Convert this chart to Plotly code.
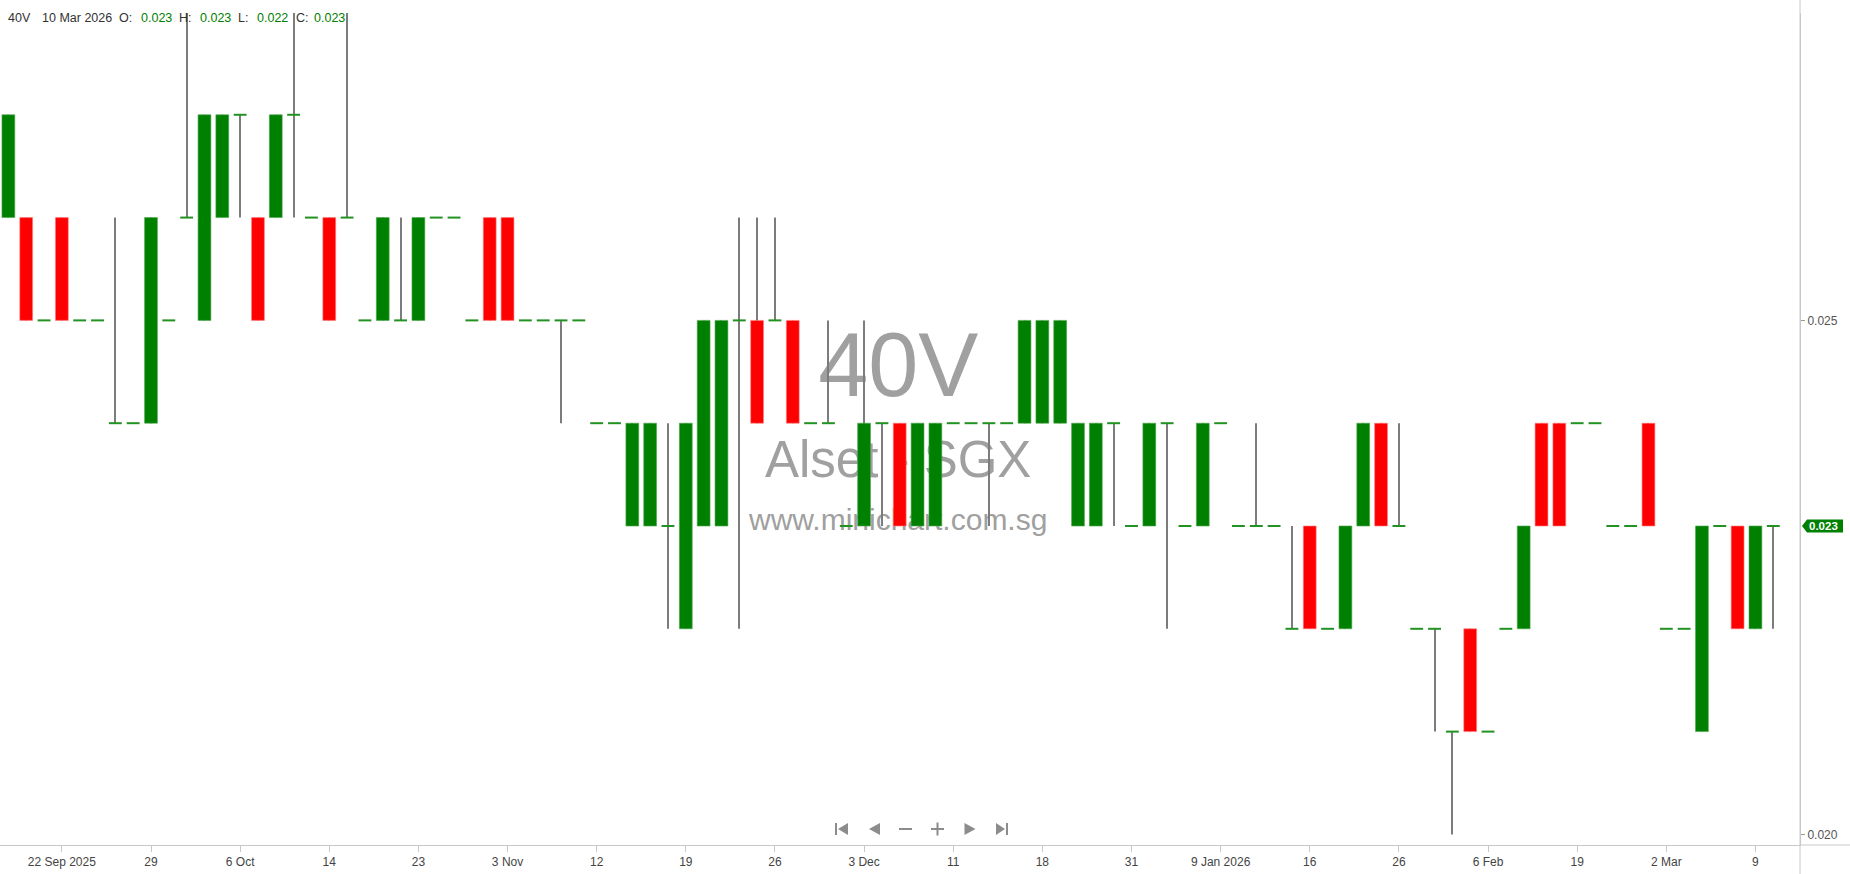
import plotly.graph_objects as go
import pandas as pd

symbol = "40V"
company = "Alset - SGX"
site = "www.minichart.com.sg"

dates = [
    "2025-09-17", "2025-09-18", "2025-09-19", "2025-09-22", "2025-09-23", "2025-09-24", "2025-09-25", "2025-09-26",
    "2025-09-29", "2025-09-30", "2025-10-01", "2025-10-02", "2025-10-03",
    "2025-10-06", "2025-10-07", "2025-10-08", "2025-10-09", "2025-10-10",
    "2025-10-14", "2025-10-15", "2025-10-16", "2025-10-17", "2025-10-21",
    "2025-10-23", "2025-10-24", "2025-10-27", "2025-10-29", "2025-10-31",
    "2025-11-03", "2025-11-04", "2025-11-06", "2025-11-07", "2025-11-11",
    "2025-11-12", "2025-11-13", "2025-11-14", "2025-11-17", "2025-11-18",
    "2025-11-19", "2025-11-20", "2025-11-21", "2025-11-24", "2025-11-25",
    "2025-11-26", "2025-11-27", "2025-11-28", "2025-12-01", "2025-12-02",
    "2025-12-03", "2025-12-04", "2025-12-05", "2025-12-08", "2025-12-10",
    "2025-12-11", "2025-12-12", "2025-12-15", "2025-12-16", "2025-12-17",
    "2025-12-18", "2025-12-19", "2025-12-22", "2025-12-24", "2025-12-29",
    "2025-12-31", "2026-01-02", "2026-01-05", "2026-01-06", "2026-01-08",
    "2026-01-09", "2026-01-12", "2026-01-13", "2026-01-14", "2026-01-15",
    "2026-01-16", "2026-01-19", "2026-01-20", "2026-01-21", "2026-01-23",
    "2026-01-26", "2026-01-28", "2026-01-29", "2026-02-02", "2026-02-04",
    "2026-02-06", "2026-02-09", "2026-02-10", "2026-02-12", "2026-02-13",
    "2026-02-19", "2026-02-20", "2026-02-23", "2026-02-25", "2026-02-27",
    "2026-03-02", "2026-03-03", "2026-03-04", "2026-03-05", "2026-03-06",
    "2026-03-09", "2026-03-10",
]

opens = [
    0.026, 0.026, 0.025, 0.026, 0.025, 0.025, 0.024, 0.024, 0.024, 0.025,
    0.026, 0.025, 0.026, 0.027, 0.026, 0.026, 0.027, 0.026, 0.026, 0.026,
    0.025, 0.025, 0.025, 0.025, 0.026, 0.026, 0.025, 0.026, 0.026, 0.025,
    0.025, 0.025, 0.025, 0.024, 0.024, 0.023, 0.023, 0.023, 0.022, 0.023,
    0.023, 0.025, 0.025, 0.025, 0.025, 0.024, 0.024, 0.023, 0.023, 0.024,
    0.024, 0.023, 0.023, 0.024, 0.024, 0.024, 0.024, 0.024, 0.024, 0.024,
    0.023, 0.023, 0.024, 0.023, 0.023, 0.024, 0.023, 0.023, 0.024, 0.023,
    0.023, 0.023, 0.022, 0.023, 0.022, 0.022, 0.023, 0.024, 0.023, 0.022,
    0.022, 0.021, 0.022, 0.021, 0.022, 0.022, 0.024, 0.024, 0.024, 0.024,
    0.023, 0.023, 0.024, 0.022, 0.022, 0.021, 0.023, 0.023, 0.022, 0.023,
]
highs = [
    0.027, 0.026, 0.025, 0.026, 0.025, 0.025, 0.026, 0.024, 0.026, 0.025,
    0.028, 0.027, 0.027, 0.027, 0.026, 0.027, 0.028, 0.026, 0.026, 0.028,
    0.025, 0.026, 0.026, 0.026, 0.026, 0.026, 0.025, 0.026, 0.026, 0.025,
    0.025, 0.025, 0.025, 0.024, 0.024, 0.024, 0.024, 0.024, 0.024, 0.025,
    0.025, 0.026, 0.026, 0.026, 0.025, 0.024, 0.025, 0.023, 0.025, 0.024,
    0.024, 0.024, 0.024, 0.024, 0.024, 0.024, 0.024, 0.025, 0.025, 0.025,
    0.024, 0.024, 0.024, 0.023, 0.024, 0.024, 0.023, 0.024, 0.024, 0.023,
    0.024, 0.023, 0.023, 0.023, 0.022, 0.023, 0.024, 0.024, 0.024, 0.022,
    0.022, 0.021, 0.022, 0.021, 0.022, 0.023, 0.024, 0.024, 0.024, 0.024,
    0.023, 0.023, 0.024, 0.022, 0.022, 0.023, 0.023, 0.023, 0.023, 0.023,
]
lows = [
    0.026, 0.025, 0.025, 0.025, 0.025, 0.025, 0.024, 0.024, 0.024, 0.025,
    0.026, 0.025, 0.026, 0.026, 0.025, 0.026, 0.026, 0.026, 0.025, 0.026,
    0.025, 0.025, 0.025, 0.025, 0.026, 0.026, 0.025, 0.025, 0.025, 0.025,
    0.025, 0.024, 0.025, 0.024, 0.024, 0.023, 0.023, 0.022, 0.022, 0.023,
    0.023, 0.022, 0.024, 0.025, 0.024, 0.024, 0.024, 0.023, 0.023, 0.023,
    0.023, 0.023, 0.023, 0.024, 0.024, 0.023, 0.024, 0.024, 0.024, 0.024,
    0.023, 0.023, 0.023, 0.023, 0.023, 0.022, 0.023, 0.023, 0.024, 0.023,
    0.023, 0.023, 0.022, 0.022, 0.022, 0.022, 0.023, 0.023, 0.023, 0.022,
    0.021, 0.020, 0.021, 0.021, 0.022, 0.022, 0.023, 0.023, 0.024, 0.024,
    0.023, 0.023, 0.023, 0.022, 0.022, 0.021, 0.023, 0.022, 0.022, 0.022,
]
closes = [
    0.027, 0.025, 0.025, 0.025, 0.025, 0.025, 0.024, 0.024, 0.026, 0.025,
    0.026, 0.027, 0.027, 0.027, 0.025, 0.027, 0.027, 0.026, 0.025, 0.026,
    0.025, 0.026, 0.025, 0.026, 0.026, 0.026, 0.025, 0.025, 0.025, 0.025,
    0.025, 0.025, 0.025, 0.024, 0.024, 0.024, 0.024, 0.023, 0.024, 0.025,
    0.025, 0.025, 0.024, 0.025, 0.024, 0.024, 0.024, 0.023, 0.024, 0.024,
    0.023, 0.024, 0.024, 0.024, 0.024, 0.024, 0.024, 0.025, 0.025, 0.025,
    0.024, 0.024, 0.024, 0.023, 0.024, 0.024, 0.023, 0.024, 0.024, 0.023,
    0.023, 0.023, 0.022, 0.022, 0.022, 0.023, 0.024, 0.023, 0.023, 0.022,
    0.022, 0.021, 0.021, 0.021, 0.022, 0.023, 0.023, 0.023, 0.024, 0.024,
    0.023, 0.023, 0.023, 0.022, 0.022, 0.023, 0.023, 0.022, 0.023, 0.023,
]

tick_dates = [
    "2025-09-22", "2025-09-29", "2025-10-06", "2025-10-14", "2025-10-23",
    "2025-11-03", "2025-11-12", "2025-11-19", "2025-11-26", "2025-12-03",
    "2025-12-11", "2025-12-18", "2025-12-31", "2026-01-09", "2026-01-16",
    "2026-01-26", "2026-02-06", "2026-02-19", "2026-03-02", "2026-03-09",
]
tick_labels = [
    "22 Sep 2025", "29", "6 Oct", "14", "23", "3 Nov", "12", "19", "26", "3 Dec",
    "11", "18", "31", "9 Jan 2026", "16", "26", "6 Feb", "19", "2 Mar", "9",
]
price_ticks = [0.020, 0.025]

GREEN = "#008000"
RED = "#ff0000"
WICK = "#7c7c7c"
AXIS = "#c8c8c8"
FONT = "Liberation Sans, Arial"
PLOT_W = 1800.0
PLOT_H = 832.0
EPS = 1e-9

fig = go.Figure()

# wicks: thin bars drawn first so the bodies sit on top
wick_len = [(h - l) if (h - l) > EPS else None for h, l in zip(highs, lows)]
fig.add_trace(go.Bar(
    x=dates, y=wick_len, base=lows, width=0.056,
    marker=dict(color=WICK, line=dict(width=0)),
    hoverinfo="skip", showlegend=False,
))

# bodies
body_base, body_len, body_col, body_edge = [], [], [], []
for o, c in zip(opens, closes):
    body_base.append(min(o, c))
    body_len.append(abs(c - o) if abs(c - o) > EPS else None)
    up = c >= o
    body_col.append(GREEN if up else RED)
    body_edge.append("#4ea64e" if up else "#ff8080")

fig.add_trace(go.Bar(
    x=dates, y=body_len, base=body_base, width=0.72,
    marker=dict(color=body_col, line=dict(color=body_edge, width=0.6)),
    hoverinfo="skip", showlegend=False,
))

# flat (open == close) candles drawn as dashes
flat_x = [d for d, o, c in zip(dates, opens, closes) if abs(c - o) < EPS]
flat_y = [c for o, c in zip(opens, closes) if abs(c - o) < EPS]
fig.add_trace(go.Scatter(
    x=flat_x, y=flat_y, mode="markers",
    marker=dict(symbol="line-ew", size=9.2, line=dict(color="#229222", width=2)),
    hoverinfo="skip", showlegend=False,
))

shapes = []
# watermark (below the data)
for text, size, yc in [(symbol, 90, 0.588), (company, 51, 0.469), (site, 30, 0.395)]:
    shapes.append(dict(
        type="rect", xref="paper", yref="paper", x0=0.299, x1=0.699,
        y0=yc - 0.06, y1=yc + 0.06, line=dict(width=0),
        fillcolor="rgba(0,0,0,0)", layer="below",
        label=dict(text=text, textposition="middle center",
                   font=dict(size=size, color="#a0a0a0", family="Liberation Sans")),
    ))

# last price tag
last_close = closes[-1]
shapes.append(dict(
    type="path", xref="paper", xsizemode="pixel", xanchor=1,
    yref="y", ysizemode="pixel", yanchor=last_close,
    path="M 2,0 L 7,6.5 L 43,6.5 L 43,-6.5 L 7,-6.5 Z",
    fillcolor=GREEN, line=dict(width=0),
))

# axis line extensions (right edge runs the full height, bottom line runs to the edge)
shapes.append(dict(type="line", xref="paper", yref="paper", x0=1, x1=1,
                   y0=-29 / PLOT_H, y1=1 + 13 / PLOT_H,
                   line=dict(color=AXIS, width=1)))
shapes.append(dict(type="line", xref="paper", yref="paper", x0=1, x1=1850 / PLOT_W, y0=0, y1=0,
                   line=dict(color=AXIS, width=1)))

# navigation icons
NAV = "#8c8c8c"
nav_y = (845 - 829) / PLOT_H
nav_icons = [
    (842, ["M -7,6 L -5,6 L -5,-6 L -7,-6 Z", "M 6,6 L 6,-6 L -4,0 Z"]),
    (874, ["M 6,6 L 6,-6 L -5,0 Z"]),
    (905.5, ["M -6.5,1 L 6.5,1 L 6.5,-1 L -6.5,-1 Z"]),
    (937.5, ["M -6.5,1 L 6.5,1 L 6.5,-1 L -6.5,-1 Z", "M -1,6.5 L 1,6.5 L 1,-6.5 L -1,-6.5 Z"]),
    (969.5, ["M -5,6 L -5,-6 L 6,0 Z"]),
    (1002, ["M -6,6 L -6,-6 L 3,0 Z", "M 4,6 L 6,6 L 6,-6 L 4,-6 Z"]),
]
for cx, paths in nav_icons:
    for p in paths:
        shapes.append(dict(type="path", xref="paper", xsizemode="pixel", xanchor=cx / PLOT_W,
                           yref="paper", ysizemode="pixel", yanchor=nav_y,
                           path=p, fillcolor=NAV, line=dict(width=0)))

annotations = []
# last price tag text
annotations.append(dict(
    x=1, xref="paper", xanchor="left", xshift=7, y=last_close, yref="y", yanchor="middle",
    text=f"<b>{last_close:.3f}</b>", showarrow=False,
    font=dict(size=11.5, color="white", family=FONT),
))

# OHLC header
last_date = pd.Timestamp(dates[-1])
hdr_date = f"{last_date.day} {last_date.strftime('%b %Y')}"
hdr = [
    (symbol, 7, "#333333"), (hdr_date, 41, "#333333"),
    ("O:", 118, "#333333"), (f"{opens[-1]:.3f}", 140, GREEN),
    ("H:", 178, "#333333"), (f"{highs[-1]:.3f}", 199, GREEN),
    ("L:", 237, "#333333"), (f"{lows[-1]:.3f}", 256, GREEN),
    ("C:", 295, "#333333"), (f"{closes[-1]:.3f}", 313, GREEN),
]
for text, px, col in hdr:
    annotations.append(dict(
        x=px / PLOT_W, xref="paper", xanchor="left", y=(845 - 18) / PLOT_H, yref="paper",
        yanchor="middle", text=text, showarrow=False, borderpad=0,
        font=dict(size=12.5, color=col, family=FONT),
    ))

fig.update_layout(
    width=1850, height=874,
    margin=dict(l=0, r=50, t=13, b=29),
    paper_bgcolor="white", plot_bgcolor="white",
    barmode="overlay", showlegend=False,
    shapes=shapes, annotations=annotations,
    xaxis=dict(
        type="category", categoryorder="array", categoryarray=dates,
        range=[-0.47, 100.5],
        tickmode="array", tickvals=tick_dates, ticktext=tick_labels,
        ticks="outside", ticklen=6, tickcolor=AXIS, tickangle=0,
        showline=True, linecolor=AXIS, linewidth=1,
        showgrid=False, zeroline=False,
        tickfont=dict(size=12, color="#444444", family=FONT),
    ),
    yaxis=dict(
        side="right", range=[0.019897, 0.02799],
        tickmode="array", tickvals=price_ticks, ticktext=[f"{v:.3f}" for v in price_ticks],
        ticks="outside", ticklen=4, tickcolor="#999999",
        showline=True, linecolor=AXIS, linewidth=1,
        showgrid=False, zeroline=False,
        tickfont=dict(size=12, color="#555555", family=FONT),
    ),
)

fig.write_html(
    "out.html",
    config={"displayModeBar": False},
    post_script="document.body.style.margin='0';document.body.style.overflow='hidden';",
)
